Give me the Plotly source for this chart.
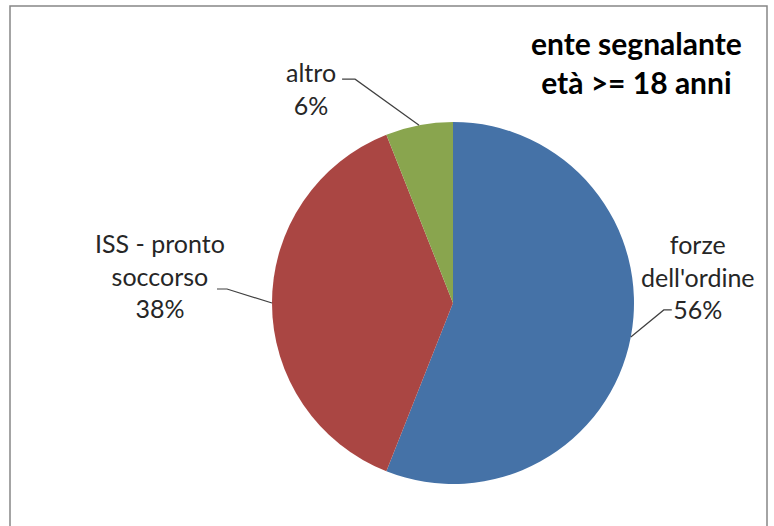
import math
import plotly.graph_objects as go

labels = ["forze dell'ordine", "ISS - pronto soccorso", "altro"]
label_text = ["forze<br>dell'ordine<br>56%", "ISS - pronto<br>soccorso<br>38%", "altro<br>6%"]
values = [56, 38, 6]
colors = ["#4572A7", "#AA4643", "#89A54E"]

W, H = 774, 526
# pie placement in pixels
cx, cy, r = 453, 303, 181

fig = go.Figure()
fig.add_trace(go.Pie(
    labels=labels,
    values=values,
    marker=dict(colors=colors, line=dict(width=0)),
    sort=False,
    direction='clockwise',
    rotation=0,
    textinfo='none',
    hoverinfo='label+percent',
    showlegend=False,
    domain=dict(x=[(cx - r) / W, (cx + r) / W], y=[1 - (cy + r) / H, 1 - (cy - r) / H]),
))

# label layout: (text center x, text center y, elbow dx, elbow dy, horizontal end dx)
label_pos = [
    (698, 276, 33, -27, 41),
    (160, 275, -45, -14, -55),
    (311, 89, -64, -46, -77),
]

total = sum(values)
cum = 0
shapes = []
annotations = []
for v, txt, (tx, ty, ex, ey, hx) in zip(values, label_text, label_pos):
    mid = (cum + v / 2) / total * 2 * math.pi
    cum += v
    px = cx + r * math.sin(mid)
    py = cy - r * math.cos(mid)
    pts = [(px, py), (px + ex, py + ey), (px + hx, py + ey)]
    path = 'M ' + ' L '.join(f'{x / W:.5f},{1 - y / H:.5f}' for x, y in pts)
    shapes.append(dict(type='path', path=path, xref='paper', yref='paper',
                       line=dict(color='#404040', width=1.2)))
    annotations.append(dict(
        x=tx / W, y=1 - ty / H, xref='paper', yref='paper',
        text=txt, showarrow=False, align='center',
        xanchor='center', yanchor='middle',
        font=dict(family='Lato', size=25, color='#262626'),
    ))

annotations.append(dict(
    x=636 / W, y=1 - 62 / H, xref='paper', yref='paper',
    text='<b>ente segnalante<br>età >= 18 anni</b>', showarrow=False,
    align='center', xanchor='center', yanchor='middle',
    font=dict(family='Lato', size=30, color='#000000'),
))

# chart border
shapes.append(dict(type='rect', xref='paper', yref='paper',
                   x0=10 / W, x1=767 / W, y0=-0.02, y1=1 - 6 / H,
                   line=dict(color='#868686', width=1.5)))

fig.update_layout(
    width=W,
    height=H,
    margin=dict(l=0, r=0, t=0, b=0),
    paper_bgcolor='white',
    plot_bgcolor='white',
    shapes=shapes,
    annotations=annotations,
)

fig.write_html("out.html", config={'displayModeBar': False},
               post_script="document.body.style.margin='0';")
